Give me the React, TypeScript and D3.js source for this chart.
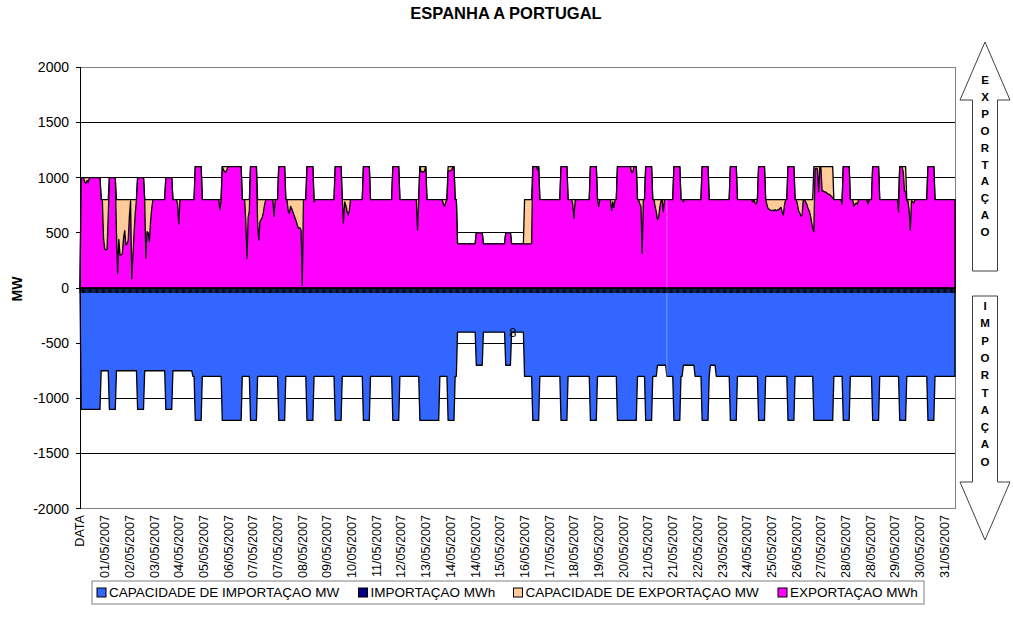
import React from "react";
import * as d3 from "d3";

const W = 1013;
const H = 631;
const LAST_HOUR = 744; // category 0 is the "DATA" header row, then 744 hours of May 2007

// category axis labels, one every 21 categories
const LABEL_STEP = 21;
const xTickLabels = [
  "DATA", "01/05/2007", "02/05/2007", "03/05/2007", "04/05/2007", "05/05/2007", "06/05/2007",
  "07/05/2007", "07/05/2007", "08/05/2007", "09/05/2007", "10/05/2007", "11/05/2007", "12/05/2007",
  "13/05/2007", "14/05/2007", "14/05/2007", "15/05/2007", "16/05/2007", "17/05/2007", "18/05/2007",
  "19/05/2007", "20/05/2007", "21/05/2007", "21/05/2007", "22/05/2007", "23/05/2007", "24/05/2007",
  "25/05/2007", "26/05/2007", "27/05/2007", "28/05/2007", "28/05/2007", "29/05/2007", "30/05/2007",
  "31/05/2007",
];
const yTicks = [-2000, -1500, -1000, -500, 0, 500, 1000, 1500, 2000];

// CAPACIDADE DE EXPORTAÇAO MW : [fromHour, toHour, MW], other hours at the base value
const expCapBase = 800;
const expCapSegments: [number, number, number][] = [
  [1, 17, 1000], [25, 30, 1000], [49, 54, 1000], [73, 78, 1000], [98, 103, 1100],
  [121, 137, 1100], [145, 150, 1100], [169, 174, 1100], [193, 198, 1100], [217, 222, 1100],
  [241, 246, 1100], [266, 271, 1100], [289, 294, 1100], [313, 318, 1100], [321, 336, 400],
  [337, 342, 500], [343, 361, 400], [362, 366, 500], [367, 377, 400], [385, 390, 1100],
  [409, 414, 1100], [434, 439, 1100], [457, 473, 1100], [481, 486, 1100], [505, 510, 1100],
  [529, 534, 1100], [553, 558, 1100], [577, 582, 1100], [602, 607, 1100], [624, 640, 1100],
  [649, 654, 1100], [674, 679, 1100], [697, 702, 1100], [721, 726, 1100],
];

// CAPACIDADE DE IMPORTAÇAO MW
const impCapBase = -800;
const impCapSegments: [number, number, number][] = [
  [1, 17, -1100], [18, 24, -750], [25, 30, -1100], [31, 48, -750], [49, 54, -1100],
  [55, 72, -750], [73, 78, -1100], [79, 95, -750], [98, 103, -1200], [121, 137, -1200],
  [145, 150, -1200], [169, 174, -1200], [193, 198, -1200], [217, 222, -1200], [241, 246, -1200],
  [266, 271, -1200], [289, 305, -1200], [313, 318, -1200], [321, 336, -400], [337, 342, -700],
  [343, 361, -400], [362, 366, -700], [367, 377, -400], [385, 390, -1200], [409, 414, -1200],
  [434, 439, -1200], [457, 473, -1200], [481, 486, -1200], [491, 498, -700], [505, 510, -1200],
  [513, 522, -700], [529, 534, -1200], [536, 540, -700], [553, 558, -1200], [577, 582, -1200],
  [602, 607, -1200], [624, 640, -1200], [649, 654, -1200], [674, 679, -1200], [697, 702, -1200],
  [721, 726, -1200],
];

// EXPORTAÇAO MWh : hours where the flow is below the export capacity [hour, MWh]
const exportBelowCap: [number, number][] = [
  [4, 960], [5, 950], [6, 975], [7, 955],
  [20, 450], [21, 355], [22, 345], [23, 350], [24, 650],
  [31, 500], [32, 130], [33, 440], [34, 300], [35, 300], [36, 310], [37, 450], [38, 520],
  [39, 390], [40, 400], [41, 430], [42, 650], [43, 790], [44, 85], [45, 300], [46, 500], [47, 680],
  [56, 270], [57, 510], [58, 500], [59, 420], [60, 600], [61, 720],
  [83, 760], [84, 580],
  [119, 710],
  [122, 1070], [123, 1055], [124, 1050], [125, 1075],
  [141, 600], [142, 267], [143, 640], [144, 700],
  [151, 600], [152, 433], [153, 600], [154, 620], [155, 640], [156, 690], [157, 760], [165, 650],
  [177, 700], [178, 675], [179, 740], [180, 720], [181, 690], [182, 660], [183, 630], [184, 600],
  [185, 560], [186, 540], [187, 545], [188, 520], [189, 25],
  [199, 780],
  [224, 590], [225, 780], [226, 750], [227, 700], [228, 660], [229, 700],
  [287, 524],
  [290, 1055], [291, 1050], [292, 1055], [293, 1060],
  [309, 760], [310, 740], [311, 780],
  [313, 1060], [314, 1060], [315, 1065], [316, 1070],
  [378, 400], [379, 400], [380, 400], [381, 400], [382, 400], [383, 400], [384, 400],
  [389, 1070],
  [419, 760], [420, 630], [421, 790],
  [441, 740], [452, 700], [453, 780], [454, 730],
  [469, 1045], [470, 1050],
  [476, 760], [477, 740], [478, 312],
  [489, 740], [490, 690], [491, 620], [492, 640], [493, 730], [494, 790], [496, 690],
  [513, 780],
  [572, 780], [574, 770], [575, 760],
  [584, 760], [585, 720], [586, 715], [587, 705], [588, 700], [589, 705], [590, 700], [591, 710],
  [592, 700], [593, 705], [594, 710], [595, 720], [596, 730], [597, 690], [598, 660], [599, 750],
  [610, 760], [611, 700], [612, 680], [613, 650], [614, 660], [617, 780], [618, 760], [619, 720],
  [620, 700], [621, 660], [622, 600], [623, 540], [624, 510],
  [625, 1080], [626, 1085], [627, 1080], [628, 870], [629, 1090], [630, 1090], [631, 880],
  [632, 880], [633, 870], [634, 870], [635, 860], [636, 850], [637, 850], [638, 840], [639, 830], [640, 820],
  [648, 760], [658, 740], [659, 760], [660, 770], [661, 760], [670, 760],
  [696, 690], [700, 1050], [701, 880], [702, 870], [703, 790], [704, 790], [705, 700], [706, 524],
  [707, 790], [708, 780], [709, 770],
];

// IMPORTAÇAO MWh : no import recorded in the month
const importSegments: [number, number, number][] = [];

const legendItems = [
  { label: "CAPACIDADE DE IMPORTAÇAO MW", color: "#3366ff", x: 97 },
  { label: "IMPORTAÇAO MWh", color: "#000080", x: 358.5 },
  { label: "CAPACIDADE DE EXPORTAÇAO MW", color: "#ffcc99", x: 513.5 },
  { label: "EXPORTAÇAO MWh", color: "#ff00ff", x: 778 },
];

const upLetters = ["E", "X", "P", "O", "R", "T", "A", "Ç", "A", "O"];
const downLetters = ["I", "M", "P", "O", "R", "T", "A", "Ç", "A", "O"];

const FONT = "'Liberation Sans', Arial, sans-serif";

function fromSegments(base: number, segs: [number, number, number][]) {
  const v = d3.range(LAST_HOUR + 1).map((h) => (h === 0 ? 0 : base));
  segs.forEach(([a, b, val]) => {
    for (let h = a; h <= b; h++) v[h] = val;
  });
  return v;
}

export default function App() {
  const left = 80, right = 955, top = 67.3, bottom = 508.7;
  const x = d3.scaleLinear().domain([0, LAST_HOUR]).range([left, right]);
  const y = d3.scaleLinear().domain([-2000, 2000]).range([bottom, top]);

  const expCap = fromSegments(expCapBase, expCapSegments);
  const impCap = fromSegments(impCapBase, impCapSegments);
  const expFlow = expCap.slice();
  exportBelowCap.forEach(([h, v]) => (expFlow[h] = v));
  const impFlow = fromSegments(0, importSegments);

  const area = d3
    .area<number>()
    .x((_, i) => x(i))
    .y0(y(0))
    .y1((d) => y(d));

  const series = [
    { data: impCap, color: "#3366ff" },
    { data: impFlow, color: "#000080" },
    { data: expCap, color: "#ffcc99" },
    { data: expFlow, color: "#ff00ff" },
  ];

  // one tick per category on the axis at 0
  const tickPath = d3
    .range(LAST_HOUR + 1)
    .map((h) => `M${x(h).toFixed(2)},${y(0)}v5`)
    .join("");

  const artefactHour = 499;
  const ax = 985; // centre of the direction arrows

  return (
    <svg width={W} height={H} style={{ position: "absolute", left: 0, top: 0, background: "#fff" }} fontFamily={FONT}>
      <text x={506} y={19} textAnchor="middle" fontSize={16.5} fontWeight="bold">
        ESPANHA A PORTUGAL
      </text>

      {/* gridlines */}
      {yTicks.filter((t) => t !== 0 && Math.abs(t) !== 2000).map((t) => (
        <line key={t} x1={left} x2={right} y1={y(t)} y2={y(t)} stroke="#000" strokeWidth={1} shapeRendering="crispEdges" />
      ))}
      <line x1={left} x2={right} y1={y(2000)} y2={y(2000)} stroke="#808080" shapeRendering="crispEdges" />
      <line x1={left} x2={right} y1={y(-2000)} y2={y(-2000)} stroke="#808080" shapeRendering="crispEdges" />
      <line x1={right} x2={right} y1={top} y2={bottom} stroke="#808080" shapeRendering="crispEdges" />

      {series.map((s, i) => (
        <path key={i} d={area(s.data) || ""} fill={s.color} stroke="#000" strokeWidth={1.3} strokeLinejoin="round" />
      ))}

      <line
        x1={x(artefactHour)} x2={x(artefactHour)}
        y1={y(expFlow[artefactHour])} y2={y(impCap[artefactHour])}
        stroke="#fff" strokeOpacity={0.35}
      />
      <text x={x(368)} y={y(-400) + 4.5} textAnchor="middle" fontSize={13}>8</text>

      {/* category axis at 0 */}
      <path d={tickPath} stroke="#000" strokeWidth={1} />
      <line x1={left} x2={right} y1={y(0)} y2={y(0)} stroke="#000" />

      {/* value axis */}
      <line x1={left} x2={left} y1={top} y2={bottom} stroke="#000" shapeRendering="crispEdges" />
      {yTicks.map((t) => (
        <g key={t}>
          <line x1={left - 4} x2={left} y1={y(t)} y2={y(t)} stroke="#000" shapeRendering="crispEdges" />
          <text x={69} y={y(t)} dy="0.35em" textAnchor="end" fontSize={14}>{t}</text>
        </g>
      ))}
      <text transform={`translate(21.7,289) rotate(-90)`} textAnchor="middle" fontSize={14} fontWeight="bold">MW</text>

      {xTickLabels.map((lab, i) => (
        <text
          key={i}
          transform={`translate(${x(i * LABEL_STEP)},515) rotate(-90)`}
          dy="0.35em"
          textAnchor="end"
          fontSize={12.6}
        >
          {lab}
        </text>
      ))}

      {/* legend */}
      <rect x={92} y={581} width={832} height={23} fill="#fff" stroke="#808080" />
      {legendItems.map((it) => (
        <g key={it.label}>
          <rect x={it.x} y={588} width={9} height={9} fill={it.color} stroke="#000" />
          <text x={it.x + 12} y={597} fontSize={13.5}>{it.label}</text>
        </g>
      ))}

      {/* direction arrows */}
      <polygon
        points={`${ax},42 ${ax + 25},100 ${ax + 12.5},100 ${ax + 12.5},271 ${ax - 12.5},271 ${ax - 12.5},100 ${ax - 25},100`}
        fill="#fff" stroke="#404040"
      />
      {upLetters.map((c, i) => (
        <text key={"u" + i} x={ax} y={80 + i * 16.9} dy="0.35em" textAnchor="middle" fontSize={11.5} fontWeight="bold">{c}</text>
      ))}
      <polygon
        points={`${ax - 12.5},296 ${ax + 12.5},296 ${ax + 12.5},482 ${ax + 25},482 ${ax},540 ${ax - 25},482 ${ax - 12.5},482`}
        fill="#fff" stroke="#404040"
      />
      {downLetters.map((c, i) => (
        <text key={"d" + i} x={ax} y={306 + i * 17.3} dy="0.35em" textAnchor="middle" fontSize={11.5} fontWeight="bold">{c}</text>
      ))}
    </svg>
  );
}
